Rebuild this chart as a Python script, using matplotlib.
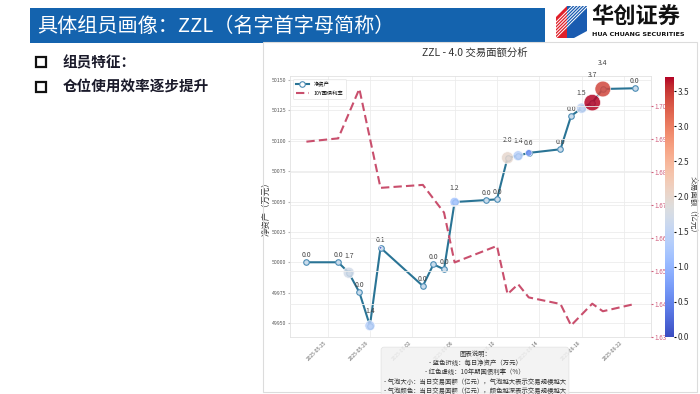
import numpy as np
import pandas as pd
import matplotlib
matplotlib.use('Agg')
import matplotlib.pyplot as plt
import matplotlib.dates as mdates
from matplotlib.patches import Rectangle, Polygon

plt.rcParams['font.family'] = ['Noto Sans CJK SC', 'DejaVu Sans']
plt.rcParams['axes.unicode_minus'] = False

# 每日净资产 / 交易面额
dates = ['2025-05-23', '2025-05-26', '2025-05-27', '2025-05-28', '2025-05-29', '2025-05-30',
         '2025-06-03', '2025-06-04', '2025-06-05', '2025-06-06', '2025-06-09', '2025-06-10',
         '2025-06-11', '2025-06-12', '2025-06-13', '2025-06-16', '2025-06-17', '2025-06-18',
         '2025-06-19', '2025-06-20', '2025-06-23']
net_asset = [50000, 50000, 49991.4, 49975.3, 49947.8, 50012, 49980.5, 49998.3, 49994.2, 50049.6,
             50051.2, 50051.8, 50086, 50087.7, 50090, 50093, 50120.4, 50126.8, 50131.4, 50142.6,
             50143.2]
trade_amt = [0.0, 0.0, 1.7, 0.0, 1.4, 0.1, 0.0, 0.0, 0.0, 1.2, 0.0, 0.0, 2.0, 1.4, 0.6, 0.0,
             0.0, 1.5, 3.7, 3.4, 0.0]

# 10年期国债利率
rate_dates = ['2025-05-23', '2025-05-26', '2025-05-28', '2025-05-30', '2025-06-03', '2025-06-05',
              '2025-06-06', '2025-06-10', '2025-06-11', '2025-06-12', '2025-06-13', '2025-06-16',
              '2025-06-17', '2025-06-19', '2025-06-20', '2025-06-23']
rate = [1.6892, 1.6902, 1.7052, 1.6752, 1.6761, 1.6677, 1.6526, 1.6576, 1.6430, 1.6460, 1.6420,
        1.6400, 1.6335, 1.6401, 1.6378, 1.6400]

tick_dates = ['2025-05-25', '2025-05-29', '2025-06-02', '2025-06-06', '2025-06-10', '2025-06-14',
              '2025-06-18', '2025-06-22']

W, H = 700, 394
def fx(px):
    return px / W
def fy(py):
    return 1 - py / H

fig = plt.figure(figsize=(7, 3.94), dpi=100)
fig.patch.set_facecolor('white')

# ---------------- 幻灯片部分 ----------------
fig.patches.append(Rectangle((fx(30), fy(43)), fx(545) - fx(30), fy(8) - fy(43),
                             transform=fig.transFigure, facecolor='#1463ae', edgecolor='none'))
fig.text(fx(37), fy(26), '具体组员画像：ZZL（名字首字母简称）', color='white', fontsize=14.5,
         fontweight='light', va='center', ha='left')

for yy, txt in [(62, '组员特征：'), (87, '仓位使用效率逐步提升')]:
    fig.patches.append(Rectangle((fx(36), fy(yy + 5)), 10 / W, 10 / H, transform=fig.transFigure,
                                 fill=False, edgecolor='#111111', lw=1.6))
    fig.text(fx(63), fy(yy), txt, fontsize=10.5, fontweight='bold', color='#1a1a2a',
             va='center', ha='left')

# 图表面板边框
fig.patches.append(Rectangle((fx(263), fy(392)), fx(697) - fx(263), fy(42) - fy(392),
                             transform=fig.transFigure, fill=False, edgecolor='#dcdcdc', lw=0.8))

# logo
axl = fig.add_axes([fx(553), fy(42), fx(700) - fx(553), fy(2) - fy(42)])
axl.set_xlim(553, 700)
axl.set_ylim(42, 2)
axl.axis('off')
red = Polygon([(556, 17), (567, 6), (567, 38), (556, 38)], closed=True, fc='#e0202a', ec='none')
blue = Polygon([(567, 6), (587, 6), (587, 31), (574, 38), (567, 38)], closed=True, fc='#1a5bb0', ec='none')
axl.add_patch(red)
axl.add_patch(blue)
for k in range(6):
    y0 = 22 + k * 3.2
    for poly in (red, blue):
        ln, = axl.plot([553, 590], [y0 + 3, y0 - 34], color='white', lw=0.7)
        ln.set_clip_path(poly)
axl.text(591, 17, '华创证券', fontsize=16, fontweight='bold', color='#111111', va='center', ha='left')
axl.text(592, 34.5, 'HUA CHUANG SECURITIES', fontsize=4.6, fontweight='bold', color='#111111',
         va='center', ha='left', family='DejaVu Sans')

# ---------------- 图表 ----------------
d = pd.to_datetime(dates)
rd = pd.to_datetime(rate_dates)
amt = np.array(trade_amt)

ax = fig.add_axes([fx(290), fy(337), fx(651) - fx(290), fy(76) - fy(337)])
ax.set_facecolor('white')
l1, = ax.plot(d, net_asset, color='#2a7495', lw=1.5, marker='o', ms=4,
              mfc='#c9dcec', mec='#4d8db5', mew=0.8, label='净资产', zorder=3)
sc = ax.scatter(d, net_asset, s=amt * 38, c=amt, cmap='coolwarm', vmin=0, vmax=3.7,
                alpha=0.85, edgecolors='white', linewidths=0.5, zorder=4)
for xi, yi, v in zip(d, net_asset, trade_amt):
    ax.annotate(f'{v:.1f}', (xi, yi), xytext=(0, 2.2 + 4 * v), textcoords='offset points',
                ha='center', va='bottom', fontsize=5, color='#444444', zorder=5)

ax.set_ylim(49938.5, 50153.3)
ax.set_yticks([49950, 49975, 50000, 50025, 50050, 50075, 50100, 50125, 50150])
ax.xaxis.set_major_locator(matplotlib.ticker.FixedLocator(mdates.date2num(pd.to_datetime(tick_dates))))
ax.xaxis.set_major_formatter(mdates.DateFormatter('%Y-%m-%d'))
ax.tick_params(axis='x', labelsize=3.6, labelcolor='#666666', rotation=45, length=0, pad=2)
for lab in ax.get_xticklabels():
    lab.set_ha('right')
ax.tick_params(axis='y', labelsize=3.8, labelcolor='#555555', length=1.5, color='#bbbbbb', pad=1)
ax.set_ylabel('净资产（万元）', fontsize=6, color='#333333', labelpad=1)
ax.grid(True, color='#ececec', lw=0.6)
for sp in ax.spines.values():
    sp.set_color('#e2e2e2')
    sp.set_linewidth(0.6)

ax2 = ax.twinx()
l2, = ax2.plot(rd, rate, color='#c94f6d', lw=1.5, ls=(0, (4, 2)), label='10Y国债利率')
ax2.set_ylim(1.63, 1.7091)
ax2.set_yticks([1.63, 1.64, 1.65, 1.66, 1.67, 1.68, 1.69, 1.70])
ax2.tick_params(axis='y', labelsize=4.5, labelcolor='#d0607e', length=1.5, color='#d0607e', pad=1)
ax2.grid(True, axis='y', color='#ececec', lw=0.6)
for sp in ax2.spines.values():
    sp.set_visible(False)

leg = ax2.legend(handles=[l1, l2], loc='upper left', fontsize=3.8, frameon=True,
                 borderpad=0.6, handlelength=2.5, labelspacing=0.6)
leg.get_frame().set_edgecolor('#dddddd')
leg.get_frame().set_linewidth(0.5)
leg.get_lines()[0].set_markerfacecolor('white')

cax = fig.add_axes([fx(665), fy(337), fx(674) - fx(665), fy(77) - fy(337)])
cb = fig.colorbar(sc, cax=cax)
cb.solids.set_alpha(1)
cb.outline.set_visible(False)
cb.set_ticks([0, 0.5, 1.0, 1.5, 2.0, 2.5, 3.0, 3.5])
cb.ax.tick_params(labelsize=6, labelcolor='#333333', length=1.5, pad=1)
cb.set_label('交易面额（亿元）', fontsize=5.5, rotation=270, labelpad=5, color='#333333')

fig.text(fx(475), fy(53), 'ZZL - 4.0 交易面额分析', fontsize=7.5, color='#333333',
         ha='center', va='center')

note = ('图表说明：\n- 蓝色折线：每日净资产（万元）\n- 红色虚线：10年期国债利率（%）\n'
        '- 气泡大小：当日交易面额（亿元），气泡越大表示交易规模越大\n'
        '- 气泡颜色：当日交易面额（亿元），颜色越深表示交易规模越大')
fig.text(fx(475), fy(350), note, fontsize=4.6, color='#333333', ha='center', va='top',
         multialignment='center', linespacing=1.2,
         bbox=dict(boxstyle='round,pad=0.45', fc='#f2f2f2', ec='#dddddd', lw=0.5, alpha=0.85))

plt.savefig('out.png', dpi=100)
